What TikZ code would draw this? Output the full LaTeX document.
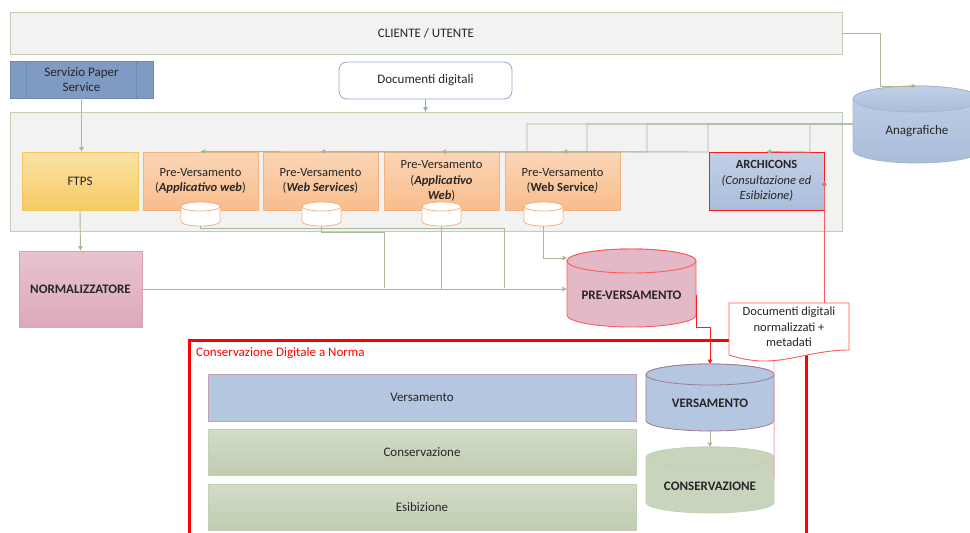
\documentclass[tikz,border=0pt]{standalone}
\usepackage{fontspec}
\setmainfont{Carlito}
\usetikzlibrary{arrows.meta}
\definecolor{pnlF}{HTML}{F2F2F2}
\definecolor{pnlD}{HTML}{C3CDB5}
\definecolor{conC}{HTML}{A8B899}
\definecolor{spsF}{HTML}{7F9AC3}
\definecolor{spsD}{HTML}{6D89B3}
\definecolor{docD}{HTML}{8FAAD3}
\definecolor{ftT}{HTML}{FBE3A6}
\definecolor{ftB}{HTML}{F6CA62}
\definecolor{ftD}{HTML}{F2C55E}
\definecolor{pvT}{HTML}{FBD5B6}
\definecolor{pvB}{HTML}{F8BD8C}
\definecolor{pvD}{HTML}{F5B27F}
\definecolor{blT}{HTML}{C2D0E6}
\definecolor{blB}{HTML}{A9BDDA}
\definecolor{blF}{HTML}{B4C6E0}
\definecolor{blD}{HTML}{A3B7D3}
\definecolor{nmT}{HTML}{E9C3D0}
\definecolor{nmB}{HTML}{DCA9BB}
\definecolor{nmD}{HTML}{DBA3B6}
\definecolor{pvF}{HTML}{E4B9C7}
\definecolor{rdC}{HTML}{FF1A1A}
\definecolor{rdL}{HTML}{FF5A5A}
\definecolor{pkL}{HTML}{F7A8B0}
\definecolor{grT}{HTML}{D2DCC8}
\definecolor{grB}{HTML}{C0CCB2}
\definecolor{grF}{HTML}{C9D4BD}
\definecolor{grD}{HTML}{C4CFB7}
\definecolor{vrD}{HTML}{A17A94}
\definecolor{txC}{HTML}{262626}
\newcommand\dbcyl[6]{%
  \path[#6] (#1,#2+#5) -- (#1,#4-#5)
    arc[start angle=180,end angle=0,x radius={(#3-#1)/2},y radius=#5]
    -- (#3,#2+#5)
    arc[start angle=0,end angle=-180,x radius={(#3-#1)/2},y radius=#5] -- cycle;
  \path[#6] ({(#1+#3)/2},#2+#5) ellipse[x radius={(#3-#1)/2},y radius=#5];
}
\begin{document}
\begin{tikzpicture}[x=1pt,y=-1pt,
  every node/.style={font=\fontsize{13}{15.5}\selectfont, text=txC, align=center, inner sep=1pt},
  pvfont/.style={font=\fontsize{12.5}{15.5}\selectfont},
  pnl/.style={draw=pnlD, fill=pnlF, line width=0.9pt, rectangle},
  pvbox/.style={draw=pvD, top color=pvT, bottom color=pvB, line width=0.8pt, rectangle, minimum width=115, minimum height=58, pvfont},
  conn/.style={draw=conC, line width=0.9pt},
  tip/.style={-{Triangle[length=4.5pt,width=4.5pt]}},
  redc/.style={draw=rdC, line width=0.9pt},
  smallcyl/.style={draw=pvD, fill=white, line width=0.8pt},
  bar/.style={rectangle, minimum width=428, line width=0.8pt}
]
\useasboundingbox (0,0) rectangle (970,533);

% top area
\node[pnl, minimum width=832, minimum height=42] (cli) at (426,33) {CLIENTE / UTENTE};
\node[pnl, minimum width=832, minimum height=119] (panel) at (426,171.5) {};
\node[draw=spsD, fill=spsF, line width=0.8pt, minimum width=143, minimum height=37] (sps) at (81.5,79.5) {Servizio Paper\\Service};
\draw[spsD, line width=0.8pt] ([xshift=17pt]sps.north west) -- ([xshift=17pt]sps.south west);
\draw[spsD, line width=0.8pt] ([xshift=-17pt]sps.north east) -- ([xshift=-17pt]sps.south east);
\node[draw=docD, fill=white, rounded corners=8pt, line width=0.8pt, minimum width=173, minimum height=37] (docd) at (425.5,80.5) {Documenti digitali};

% Anagrafiche
\dbcyl{853}{86}{981}{163}{13}{draw=blD, top color=blT, bottom color=blB, line width=0.8pt}
\node[minimum width=128, minimum height=38] (ana) at (917,131) {Anagrafiche};
\coordinate (anatop) at (916,86);

% boxes in the panel
\node[draw=ftD, top color=ftT, bottom color=ftB, line width=0.8pt, minimum width=116, minimum height=58] (ftps) at (80,181) {FTPS};
\node[pvbox] (pv1) at (200.5,181) {Pre-Versamento\\(\textbf{\textit{Applicativo web}})};
\node[pvbox] (pv2) at (320.5,181) {Pre-Versamento\\(\textbf{\textit{Web Services}})};
\node[pvbox] (pv3) at (441.5,181) {Pre-Versamento\\(\textbf{\textit{Applicativo}}\\\textbf{\textit{Web}})};
\node[pvbox] (pv4) at (562.5,181) {Pre-Versamento\\(\textbf{Web Service}\textit{)}};
\node[draw=rdC, top color=blT, bottom color=blB, line width=0.9pt, minimum width=115, minimum height=58, pvfont] (arch) at (766.5,181) {\textbf{ARCHICONS}\\\textit{(Consultazione ed}\\\textit{Esibizione)}};

% small cylinders
\dbcyl{181}{202}{220}{226}{4.5}{smallcyl}
\node[minimum width=39, minimum height=16, inner sep=0pt] (c1) at (200.5,218) {};
\dbcyl{302}{202}{341}{226}{4.5}{smallcyl}
\node[minimum width=39, minimum height=16, inner sep=0pt] (c2) at (321.5,218) {};
\dbcyl{422}{202}{461}{226}{4.5}{smallcyl}
\node[minimum width=39, minimum height=16, inner sep=0pt] (c3) at (441.5,218) {};
\dbcyl{524}{202}{563}{226}{4.5}{smallcyl}
\node[minimum width=39, minimum height=16, inner sep=0pt] (c4) at (543.5,218) {};

% normalizzatore and pre-versamento
\node[draw=nmD, top color=nmT, bottom color=nmB, line width=0.8pt, minimum width=123, minimum height=76] (norm) at (80.5,289) {\textbf{NORMALIZZATORE}};
\dbcyl{567}{249}{696}{327}{12}{draw=rdL, fill=pvF, line width=0.9pt}
\node[minimum width=129, minimum height=40] (prev) at (631.5,295) {\textbf{PRE-VERSAMENTO}};

% conservazione digitale a norma
\node[draw=red, line width=3pt, minimum width=617, minimum height=220] (cdn) at (497.5,450) {};
\node[anchor=west, text=red] (cdnt) at (195,353) {Conservazione Digitale a Norma};
\node[bar, draw=vrD!70, fill=blF, minimum height=47] (bv) at (422,397.5) {Versamento};
\node[bar, draw=grD, top color=grT, bottom color=grB, minimum height=46] (bc) at (422,452) {Conservazione};
\node[bar, draw=grD, top color=grT, bottom color=grB, minimum height=46] (be) at (422,507) {Esibizione};
\dbcyl{646}{364}{774}{431}{10.5}{draw=vrD, fill=blF, line width=0.8pt}
\node[minimum width=128, minimum height=36] (vers) at (710,403) {\textbf{VERSAMENTO}};
\dbcyl{646}{447}{774}{513}{10.5}{draw=grD, fill=grF, line width=0.8pt}
\node[minimum width=128, minimum height=34] (cons) at (710,486) {\textbf{CONSERVAZIONE}};
\coordinate (verstop) at (710,364);
\coordinate (versbot) at (710,431);
\coordinate (constop) at (710,447);

% connectors
\draw[conn, tip] (sps.south) -- (sps.south |- ftps.north);
\draw[draw=docD, line width=0.9pt, tip] (docd.south) -- (docd.south |- panel.north);
\draw[conn, tip] (cli.east) -| (880,86) -- (anatop);
\foreach \xx/\tt in {527/pv1, 587/pv2, 647/pv3, 708/pv4, 810/arch}
  \draw[conn, tip] ([yshift=7pt]ana.west) -| (\xx,152) -- (\tt.north);
\draw[conn, tip] (ftps.south) -- (norm.north);
\draw[conn] (c1.south) |- (504,228) -- (504,288);
\draw[conn] (c2.south) |- (384,232) -- (384,288);
\draw[conn] (c3.south) -- (c3.south |- norm.east);
\draw[conn, tip] (norm.east) -- (norm.east -| prev.west);
\draw[conn, tip] (c4.south) |- (567,258);
\draw[redc, tip] (prev.east) |- (710,327) -- (verstop);
\draw[conn, tip] (versbot) -- (constop);
\draw[draw=pkL, line width=0.9pt] ([yshift=8pt]cons.east) -- (774,360);

% document shape
\path[fill=white, draw=rdL, line width=0.9pt] (729,303) -- (849,303) -- (849,350)
  .. controls (815,350) and (790,362) .. (760,361)
  .. controls (745,360) and (735,357) .. (729,355) -- cycle;
\node[minimum width=120, minimum height=48, pvfont] (docn) at (789,327) {Documenti digitali\\normalizzati +\\metadati};
\draw[draw=rdL, line width=0.9pt, tip] (arch.east |- docn.north) -- (arch.east);
\end{tikzpicture}
\end{document}
